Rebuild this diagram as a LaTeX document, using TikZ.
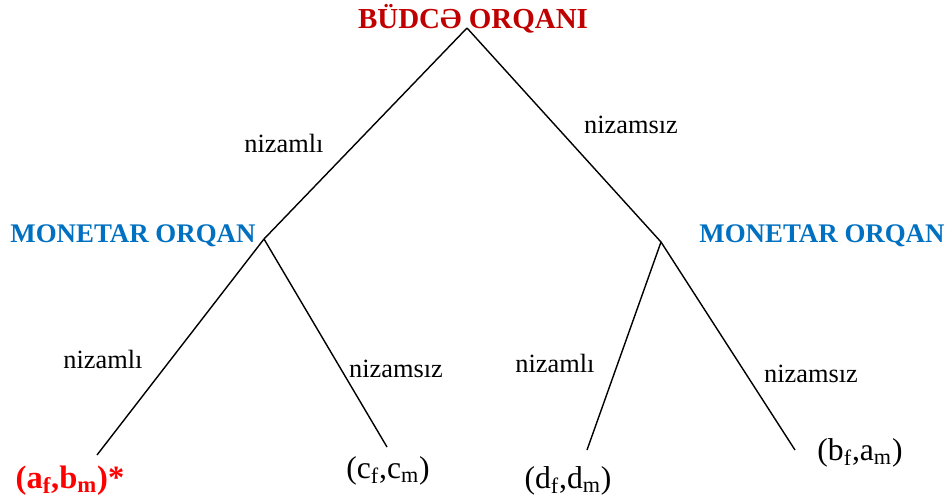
\documentclass[tikz,border=0pt]{standalone}
\usepackage{fontspec}
\setmainfont{Liberation Serif}
\definecolor{budred}{HTML}{C00000}
\definecolor{monblue}{HTML}{0070C0}
\definecolor{leafred}{HTML}{FF0000}
\begin{document}
\begin{tikzpicture}[x=0.02cm,y=-0.02cm,
  branch/.style={line width=0.8pt},
  choice/.style={anchor=base,inner sep=0pt,font=\fontsize{15}{18}\selectfont},
  player/.style={anchor=base,inner sep=0pt,font=\fontsize{15.3}{18}\selectfont\bfseries},
  payoff/.style={anchor=base,inner sep=0pt,font=\fontsize{18}{21}\selectfont}]
\useasboundingbox (0,0) rectangle (950,500);
% players
\node[player,text=budred,font=\fontsize{16.5}{19}\selectfont\bfseries] (budce) at (473,29) {BÜDCƏ ORQANI};
\node[player,text=monblue] (monetarL) at (133,242) {MONETAR ORQAN};
\node[player,text=monblue] (monetarR) at (822,242) {MONETAR ORQAN};
% decision points
\coordinate (root) at (467,28);
\coordinate (monL) at (264,239);
\coordinate (monR) at (661,242);
\coordinate (endA) at (97,455);
\coordinate (endC) at (387,447);
\coordinate (endD) at (587,450);
\coordinate (endB) at (795,450);
% branches
\draw[branch] (root) -- (monL);
\draw[branch] (root) -- (monR);
\draw[branch] (monL) -- (endA);
\draw[branch] (monL) -- (endC);
\draw[branch] (monR) -- (endD);
\draw[branch] (monR) -- (endB);
% labels on branches
\node[choice] (c1) at (284,153) {nizamlı};
\node[choice] (c2) at (631,133) {nizamsız};
\node[choice] (c3) at (103,368) {nizamlı};
\node[choice] (c4) at (396,377) {nizamsız};
\node[choice] (c5) at (555,372) {nizamlı};
\node[choice] (c6) at (811,382) {nizamsız};
% payoffs
\node[payoff,text=leafred,font=\fontsize{18.5}{21}\selectfont\bfseries] (leafA) at (70,488) {(a\textsubscript{f},b\textsubscript{m})*};
\node[payoff] (leafC) at (388,478) {(c\textsubscript{f},c\textsubscript{m})};
\node[payoff] (leafD) at (568,488) {(d\textsubscript{f},d\textsubscript{m})};
\node[payoff] (leafB) at (860,460) {(b\textsubscript{f},a\textsubscript{m})};
\end{tikzpicture}
\end{document}
